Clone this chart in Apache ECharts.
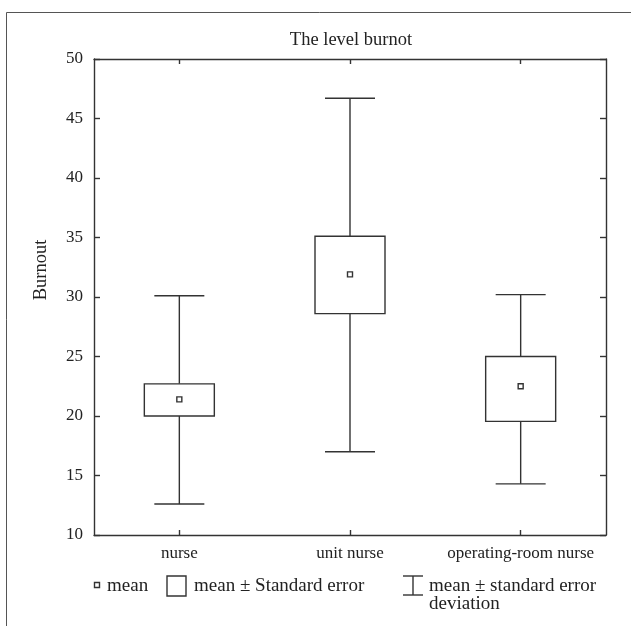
<!DOCTYPE html>
<html>
<head>
<meta charset="utf-8">
<style>
html,body{margin:0;padding:0;background:#fff;}
#chart{width:631px;height:626px;}
</style>
<script src="https://cdn.jsdelivr.net/npm/echarts@6/dist/echarts.min.js"></script>
</head>
<body>
<div id="chart"></div>
<script>
// ---- data ----
var categories = ['nurse', 'unit nurse', 'operating-room nurse'];
var means      = [21.4, 31.9, 22.5];
var seLow      = [20.0, 28.6, 19.55];
var seHigh     = [22.7, 35.1, 25.0];
var sdLow      = [12.6, 17.0, 14.3];
var sdHigh     = [30.1, 46.7, 30.2];
var yTicks     = [10, 15, 20, 25, 30, 35, 40, 45, 50];

var FONT = 'Liberation Serif';
var LINE = '#333333';
var TXT = '#222222';

var chart = echarts.init(document.getElementById('chart'));

var boxData = categories.map(function (c, i) {
  return [i, means[i], seLow[i], seHigh[i], sdLow[i], sdHigh[i]];
});

function renderBox(params, api) {
  var x = api.value(0);
  var pMean = api.coord([x, api.value(1)]);
  var pSeL = api.coord([x, api.value(2)]);
  var pSeH = api.coord([x, api.value(3)]);
  var pSdL = api.coord([x, api.value(4)]);
  var pSdH = api.coord([x, api.value(5)]);
  var cx = pMean[0];
  var boxW = 70, capW = 50, m = 5;
  var ls = {stroke: LINE, lineWidth: 1.4, fill: null};
  return {
    type: 'group',
    children: [
      {type: 'line', shape: {x1: cx, y1: pSeH[1], x2: cx, y2: pSdH[1]}, style: ls},
      {type: 'line', shape: {x1: cx, y1: pSeL[1], x2: cx, y2: pSdL[1]}, style: ls},
      {type: 'line', shape: {x1: cx - capW / 2, y1: pSdH[1], x2: cx + capW / 2, y2: pSdH[1]}, style: ls},
      {type: 'line', shape: {x1: cx - capW / 2, y1: pSdL[1], x2: cx + capW / 2, y2: pSdL[1]}, style: ls},
      {type: 'rect', shape: {x: cx - boxW / 2, y: pSeH[1], width: boxW, height: pSeL[1] - pSeH[1]},
        style: {stroke: LINE, lineWidth: 1.4, fill: '#fff'}},
      {type: 'rect', shape: {x: cx - m / 2, y: pMean[1] - m / 2, width: m, height: m},
        style: {stroke: LINE, lineWidth: 1.4, fill: '#fff'}}
    ]
  };
}

var labelStyle = {fontFamily: FONT, fontSize: 17, color: TXT};
var LEG_FONT = '19px "' + FONT + '"';

var option = {
  animation: false,
  backgroundColor: '#fff',
  grid: {left: 94, right: 25, top: 59, bottom: 91, containLabel: false},
  xAxis: [
    {
      type: 'category', data: categories, position: 'bottom',
      axisLine: {show: true, lineStyle: {color: LINE, width: 1.4}},
      axisTick: {show: true, inside: true, length: 5, alignWithLabel: true, lineStyle: {color: LINE, width: 1.4}},
      axisLabel: Object.assign({margin: 10, interval: 0}, labelStyle),
      splitLine: {show: false}
    },
    {
      type: 'category', data: categories, position: 'top',
      axisLine: {show: true, lineStyle: {color: LINE, width: 1.4}},
      axisTick: {show: true, inside: true, length: 5, alignWithLabel: true, lineStyle: {color: LINE, width: 1.4}},
      axisLabel: {show: false},
      splitLine: {show: false}
    }
  ],
  yAxis: [
    {
      type: 'value', min: yTicks[0], max: yTicks[yTicks.length - 1], interval: 5, position: 'left',
      axisLine: {show: true, lineStyle: {color: LINE, width: 1.4}},
      axisTick: {show: true, inside: true, length: 6, lineStyle: {color: LINE, width: 1.4}},
      axisLabel: Object.assign({margin: 11}, labelStyle),
      splitLine: {show: false}
    },
    {
      type: 'value', min: yTicks[0], max: yTicks[yTicks.length - 1], interval: 5, position: 'right',
      axisLine: {show: true, lineStyle: {color: LINE, width: 1.4}},
      axisTick: {show: true, inside: true, length: 6, lineStyle: {color: LINE, width: 1.4}},
      axisLabel: {show: false},
      splitLine: {show: false}
    }
  ],
  series: [
    {
      type: 'custom',
      xAxisIndex: 0, yAxisIndex: 0,
      renderItem: renderBox,
      encode: {x: 0, y: [1, 2, 3, 4, 5]},
      data: boxData,
      clip: false
    }
  ],
  graphic: [
    // outer frame (only left/top visible in the reference)
    {type: 'rect', silent: true, shape: {x: 6.5, y: 12.5, width: 800, height: 800},
      style: {stroke: '#555', lineWidth: 1, fill: null}, z: -10},
    // title
    {type: 'text', x: 351, y: 40, style: {text: 'The level burnot', font: '18.5px "' + FONT + '"', fill: TXT,
      textAlign: 'center', textVerticalAlign: 'middle'}},
    // y axis title
    {type: 'text', x: 41, y: 270, rotation: Math.PI / 2,
      style: {text: 'Burnout', font: '18.5px "' + FONT + '"', fill: TXT,
        textAlign: 'center', textVerticalAlign: 'middle'}},
    // legend: mean
    {type: 'rect', shape: {x: 94.5, y: 582.5, width: 5, height: 5},
      style: {stroke: LINE, lineWidth: 1.4, fill: '#fff'}},
    {type: 'text', x: 107, y: 586, style: {text: 'mean', font: LEG_FONT, fill: TXT,
      textAlign: 'left', textVerticalAlign: 'middle'}},
    // legend: box
    {type: 'rect', shape: {x: 167, y: 576, width: 19, height: 20},
      style: {stroke: LINE, lineWidth: 1.4, fill: '#fff'}},
    {type: 'text', x: 194, y: 586, style: {text: 'mean \u00b1 Standard error', font: LEG_FONT, fill: TXT,
      textAlign: 'left', textVerticalAlign: 'middle'}},
    // legend: whisker
    {type: 'line', shape: {x1: 413, y1: 576, x2: 413, y2: 595}, style: {stroke: LINE, lineWidth: 1.4}},
    {type: 'line', shape: {x1: 403, y1: 576, x2: 423, y2: 576}, style: {stroke: LINE, lineWidth: 1.4}},
    {type: 'line', shape: {x1: 403, y1: 595, x2: 423, y2: 595}, style: {stroke: LINE, lineWidth: 1.4}},
    {type: 'text', x: 429, y: 586, style: {text: 'mean \u00b1 standard error', font: LEG_FONT, fill: TXT,
      textAlign: 'left', textVerticalAlign: 'middle'}},
    {type: 'text', x: 429, y: 604, style: {text: 'deviation', font: LEG_FONT, fill: TXT,
      textAlign: 'left', textVerticalAlign: 'middle'}}
  ]
};

chart.setOption(option);
</script>
</body>
</html>
